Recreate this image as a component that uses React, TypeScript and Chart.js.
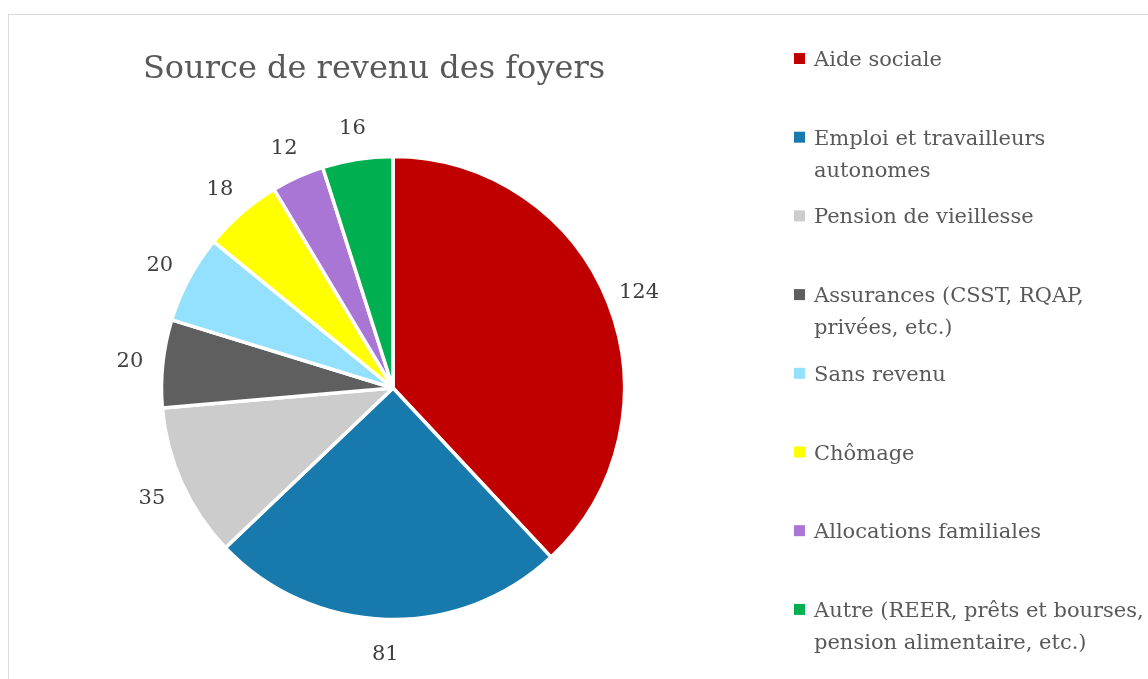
import React, { useEffect, useRef } from "react";
import { Chart, registerables } from "chart.js";

Chart.register(...registerables);

const chartTitle = "Source de revenu des foyers";
const categories: string[][] = [
  ["Aide sociale"],
  ["Emploi et travailleurs", "autonomes"],
  ["Pension de vieillesse"],
  ["Assurances (CSST, RQAP,", "privées, etc.)"],
  ["Sans revenu"],
  ["Chômage"],
  ["Allocations familiales"],
  ["Autre (REER, prêts et bourses,", "pension alimentaire, etc.)"],
];
const values = [124, 81, 35, 20, 20, 18, 12, 16];
const colors = ["#C00000", "#1779AC", "#CCCCCC", "#5F5F5F", "#94E1FE", "#FFFF00", "#AA76D5", "#00AF50"];

const FONT = '"DejaVu Serif", serif';

const textPlugin = {
  id: "textPlugin",
  afterDraw(chart: any) {
    const ctx = chart.ctx as CanvasRenderingContext2D;
    ctx.save();
    // title
    ctx.fillStyle = "#595959";
    ctx.font = `32px ${FONT}`;
    ctx.textAlign = "center";
    ctx.textBaseline = "alphabetic";
    ctx.fillText(chartTitle, 365, 63);

    // data labels outside the slices
    const meta = chart.getDatasetMeta(0);
    ctx.font = `21px ${FONT}`;
    ctx.fillStyle = "#404040";
    ctx.textBaseline = "middle";
    meta.data.forEach((arc: any, i: number) => {
      const p = arc.getProps(["x", "y", "startAngle", "endAngle", "outerRadius"], true);
      const mid = (p.startAngle + p.endAngle) / 2;
      const r = p.outerRadius + 33;
      ctx.fillText(String(chart.data.datasets[0].data[i]), p.x + Math.cos(mid) * r, p.y + Math.sin(mid) * r + 2);
    });

    // legend
    ctx.font = `21px ${FONT}`;
    ctx.textAlign = "left";
    ctx.textBaseline = "alphabetic";
    const lx = 785, tx = 805, y0 = 51, step = 78.7, lh = 32;
    categories.forEach((lines, i) => {
      const by = y0 + i * step;
      ctx.fillStyle = colors[i];
      ctx.fillRect(lx, by - 13, 11, 11);
      ctx.fillStyle = "#595959";
      lines.forEach((line, j) => ctx.fillText(line, tx, by + j * lh));
    });
    ctx.restore();
  },
};

export default function App() {
  const ref = useRef<HTMLCanvasElement | null>(null);
  useEffect(() => {
    if (!ref.current) return;
    const chart = new Chart(ref.current, {
      type: "pie",
      data: {
        labels: categories.map((l) => l.join(" ")),
        datasets: [
          {
            data: values,
            backgroundColor: colors,
            borderColor: "#FFFFFF",
            borderWidth: 3.5,
            hoverOffset: 0,
            radius: 231.5,
          } as any,
        ],
      },
      options: {
        responsive: false,
        animation: false,
        events: [],
        layout: { padding: { left: 144, right: 515, top: 133, bottom: 51 } },
        plugins: {
          legend: { display: false },
          title: { display: false },
          tooltip: { enabled: false },
        },
      },
      plugins: [textPlugin],
    });
    return () => chart.destroy();
  }, []);
  return (
    <div
      style={{
        position: "fixed",
        left: 8,
        top: 14,
        width: 1140,
        height: 665,
        borderTop: "1px solid #D9D9D9",
        borderLeft: "1px solid #D9D9D9",
        boxSizing: "border-box",
        overflow: "hidden",
        background: "#FFFFFF",
      }}
    >
      <canvas ref={ref} width={1139} height={664} style={{ display: "block" }} />
    </div>
  );
}
